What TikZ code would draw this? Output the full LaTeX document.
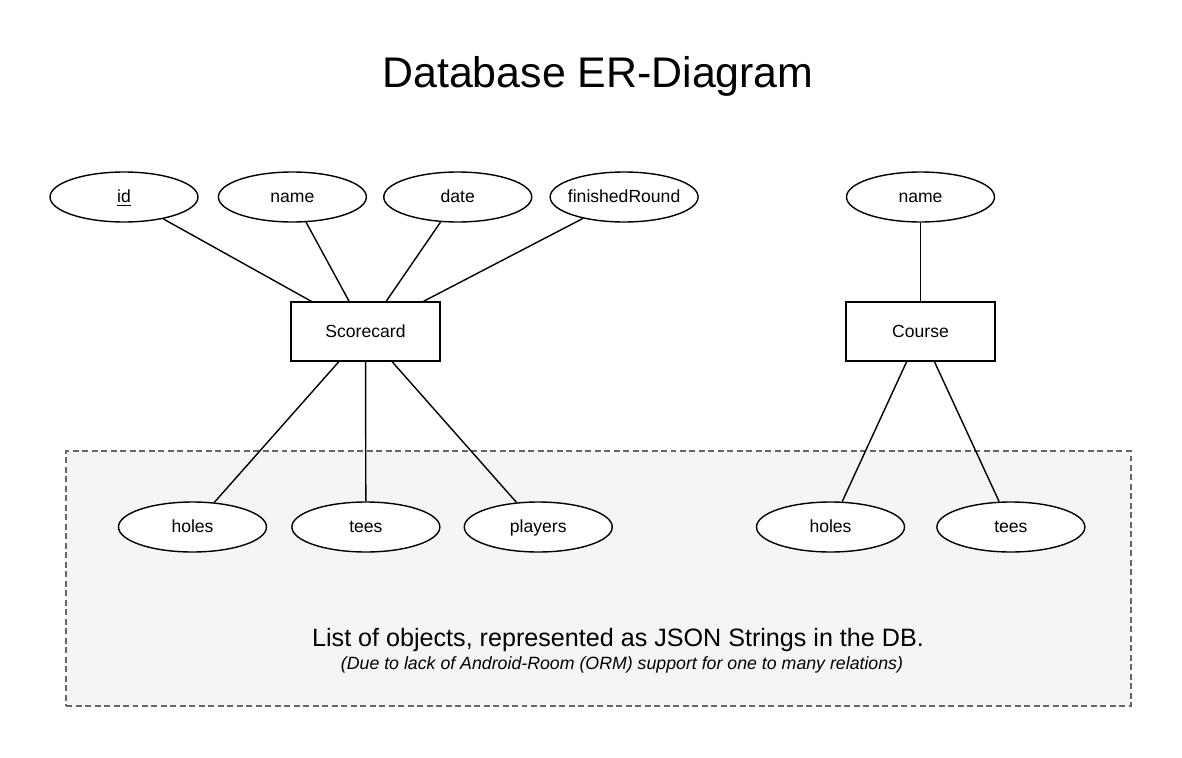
\documentclass[tikz,border=0pt]{standalone}
\usepackage{fontspec}
\setmainfont{Liberation Sans}
\usetikzlibrary{positioning, shapes.geometric}

\definecolor{areafill}{HTML}{F5F5F5}
\definecolor{arealine}{HTML}{666666}

\begin{document}
\begin{tikzpicture}[
  x=0.02cm, y=-0.02cm,
  every node/.style={font=\fontsize{10}{12}\selectfont},
  attr/.style={ellipse, draw, fill=white, line width=0.8pt, minimum width=2.96cm, minimum height=1cm, inner sep=0pt,
    text height=1.6ex, text depth=0.4ex,
    execute at begin node={\hbox to 0pt\bgroup\hss}, execute at end node={\hss\egroup}},
  entity/.style={draw, fill=white, line width=0.8pt, minimum width=2.98cm, minimum height=1.18cm, inner sep=0pt,
    text height=1.6ex, text depth=0.4ex},
  listbox/.style={draw=arealine, fill=areafill, line width=0.75pt, dash pattern=on 3.4pt off 2pt,
    minimum width=21.3cm, minimum height=5.1cm, inner sep=0pt},
  link/.style={line width=0.8pt},
]
\useasboundingbox (0,0) rectangle (1182,757);

\node[font=\fontsize{24.4}{29}\selectfont] (title) at (598,76) {Database ER-Diagram};

% JSON list area
\node[listbox] (listarea) at (598.5,578.5) {};
\node[font=\fontsize{14.3}{17}\selectfont] (listnote) at (618,640) {List of objects, represented as JSON Strings in the DB.};
\node[font=\fontsize{10.1}{12}\selectfont\itshape] (listwhy) at (622,665) {(Due to lack of Android-Room (ORM) support for one to many relations)};

% Scorecard
\node[entity] (scorecard) at (365.5,331.5) {Scorecard};
\node[attr] (sid) at (124,197) {\underline{id}};
\node[attr, right=0.38cm of sid] (sname) {name};
\node[attr, right=0.32cm of sname] (sdate) {date};
\node[attr, right=0.34cm of sdate] (sfinished) {finishedRound};
\node[attr] (sholes) at (192.5,527) {holes};
\node[attr, right=0.48cm of sholes] (stees) {tees};
\node[attr, right=0.46cm of stees] (splayers) {players};

% Course
\node[entity] (course) at (920.5,331.5) {Course};
\node[attr] (cname) at (920.5,197) {name};
\node[attr] (choles) at (830.5,527) {holes};
\node[attr, right=0.62cm of choles] (ctees) {tees};

\foreach \a in {sid, sname, sdate, sfinished, sholes, stees, splayers}
  \draw[link] (\a) -- (scorecard);
\foreach \a in {cname, choles, ctees}
  \draw[link] (\a) -- (course);

\end{tikzpicture}
\end{document}
